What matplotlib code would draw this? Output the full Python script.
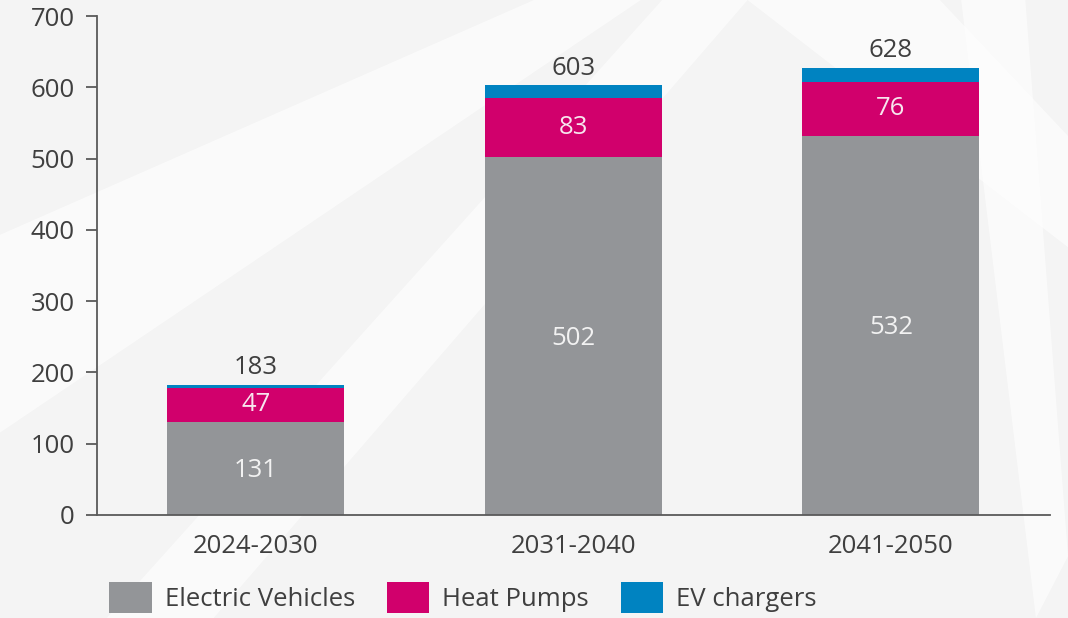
import numpy as np
import matplotlib.pyplot as plt
from matplotlib.patches import Polygon

plt.rcParams['font.family'] = ['Open Sans', 'DejaVu Sans']

# Data
periods = ['2024-2030', '2031-2040', '2041-2050']
electric_vehicles = [131, 502, 532]
heat_pumps = [47, 83, 76]
ev_chargers = [5, 18, 20]
totals = [183, 603, 628]

grey = '#939598'
magenta = '#d1006c'
blue = '#0083c1'
text_col = '#3f3f3f'
fs = 18.5

fig = plt.figure(figsize=(10.68, 6.18), dpi=100)
fig.patch.set_facecolor('#f4f4f4')

# faint white background shapes, behind everything
bg = fig.add_axes([0, 0, 1, 1], zorder=-1)
bg.set_xlim(0, 1)
bg.set_ylim(0, 1)
bg.axis('off')
shapes = [
    [(0.0, 0.30), (0.0, 0.62), (0.50, 1.0), (0.60, 1.0)],
    [(0.62, 1.0), (0.70, 1.0), (0.20, 0.0), (0.10, 0.0)],
    [(0.70, 1.0), (0.88, 1.0), (1.0, 0.78), (1.0, 0.60)],
    [(0.90, 1.0), (0.96, 1.0), (1.0, 0.10), (0.97, 0.0)],
]
for pts in shapes:
    bg.add_patch(Polygon(pts, closed=True, facecolor='white', edgecolor='none', alpha=0.6))

ax = fig.add_axes([0.0908, 0.1667, 0.892, 0.807])
ax.set_facecolor('none')

x = np.arange(len(periods))
w = 0.557
ev = np.array(electric_vehicles)
hp = np.array(heat_pumps)
ch = np.array(ev_chargers)

ax.bar(x, ev, w, color=grey, label='Electric Vehicles', zorder=2)
ax.bar(x, hp, w, bottom=ev, color=magenta, label='Heat Pumps', zorder=2)
ax.bar(x, ch, w, bottom=ev + hp, color=blue, label='EV chargers', zorder=2)

for i in range(len(periods)):
    ax.text(x[i], ev[i] / 2 - 3, str(ev[i]), ha='center', va='center',
            color='#f2f2f2', fontsize=fs)
    ax.text(x[i], ev[i] + hp[i] / 2, str(hp[i]), ha='center', va='center',
            color='#f7e6ee', fontsize=fs)
    ax.text(x[i], ev[i] + hp[i] + ch[i] + 6, str(totals[i]), ha='center', va='bottom',
            color=text_col, fontsize=fs)

ax.set_xlim(-0.5, 2.5)
ax.set_ylim(0, 700)
ax.set_yticks(range(0, 701, 100))
ax.set_xticks(x)
ax.set_xticklabels(periods)

for s in ['top', 'right']:
    ax.spines[s].set_visible(False)
for s in ['left', 'bottom']:
    ax.spines[s].set_color('#5a5a5a')
    ax.spines[s].set_linewidth(1.3)

ax.tick_params(axis='y', length=8, width=1.3, color='#5a5a5a', labelsize=fs,
               labelcolor=text_col, pad=8)
ax.tick_params(axis='x', length=0, labelsize=fs, labelcolor=text_col, pad=14)

ax.legend(loc='upper left', bbox_to_anchor=(0.013, -0.135), ncol=3, frameon=False,
          fontsize=fs, handlelength=1.65, handleheight=1.45, handletextpad=0.5,
          columnspacing=1.25, labelcolor=text_col, borderaxespad=0, borderpad=0)

fig.savefig('out.png', dpi=100, facecolor=fig.get_facecolor())
